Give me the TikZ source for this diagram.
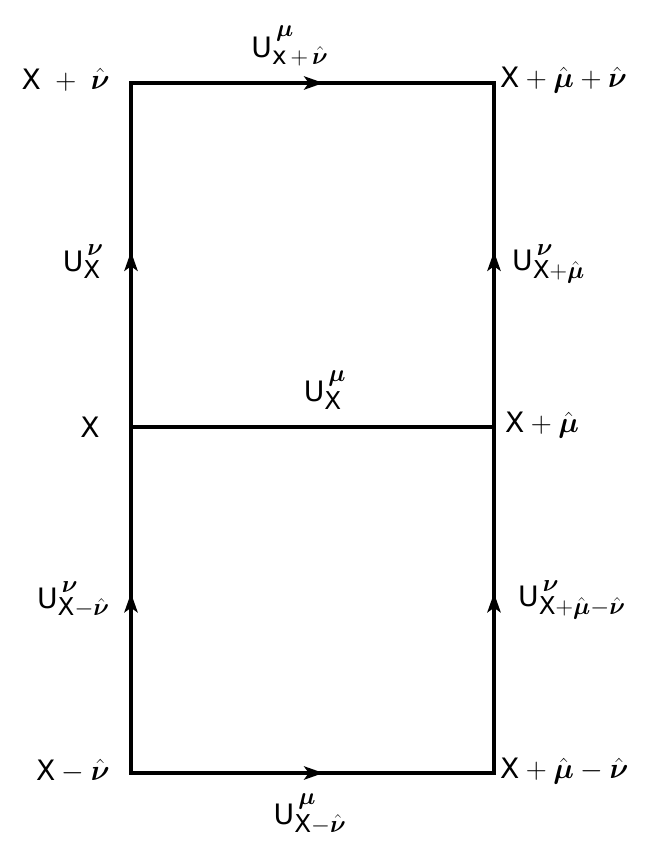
\documentclass[tikz,border=0pt]{standalone}
\usepackage{amsmath}
\usepackage{fontspec}
\setmainfont{DejaVu Sans}
\setmathsf{DejaVu Sans}
\usetikzlibrary{arrows.meta,decorations.markings}
\DeclareMathSizes{24}{24}{21}{16}
\newcommand{\gmu}{\boldsymbol{\mu}}
\newcommand{\gnu}{\boldsymbol{\nu}}
\newcommand{\hmu}{\hat{\gmu}}
\newcommand{\hnu}{\hat{\gnu}}
\newcommand{\sX}{\mathsf{X}}
\newcommand{\pl}{\mathbin{\mathsf{+}}}
\newcommand{\mn}{\mathbin{\mathsf{-}}}
\begin{document}
\begin{tikzpicture}[x=0.03cm,y=-0.03cm,
  link/.style={line width=2.8pt,line cap=rect},
  midarrow/.style={postaction={decorate},decoration={markings,
     mark=at position #1 with {\arrow{Stealth[length=0.58cm,width=0.4cm,inset=0.14cm]}}}},
  midarrow/.default=0.52,
  lbl/.style={font=\fontsize{24}{28}\selectfont,inner sep=0pt}]
\useasboundingbox (0,0) rectangle (668,849);
\coordinate (A) at (131,83);
\coordinate (B) at (494,83);
\coordinate (C) at (131,427);
\coordinate (D) at (494,427);
\coordinate (E) at (131,773);
\coordinate (F) at (494,773);
\draw[link,midarrow=0.53] (A) -- (B);
\draw[link] (C) -- (D);
\draw[link,midarrow=0.53] (E) -- (F);
\draw[link,midarrow=0.51] (C) -- (A);
\draw[link,midarrow=0.52] (E) -- (C);
\draw[link,midarrow=0.51] (D) -- (B);
\draw[link,midarrow=0.52] (F) -- (D);
% labels
\node[lbl] (lt) at (290,46) {$\mathsf{U}^{\,\gmu}_{\mathsf{x}\,\pl\,\hnu}$};
\node[lbl,anchor=east] (nA) at (110,80) {$\sX\;\pl\;\hnu$};
\node[lbl,anchor=west] (nB) at (500,80) {$\sX\pl\hmu\pl\hnu$};
\node[lbl,anchor=east] (ll1) at (104,262) {$\mathsf{U}^{\,\gnu}_{\sX}$};
\node[lbl,anchor=west] (lr1) at (512,264) {$\mathsf{U}^{\,\gnu}_{\sX\pl\hmu}$};
\node[lbl] (lm) at (325,390) {$\mathsf{U}^{\,\gmu}_{\sX}$};
\node[lbl] (nC) at (90,427) {$\sX$};
\node[lbl,anchor=west] (nD) at (505,425) {$\sX\pl\hmu$};
\node[lbl,anchor=east] (ll2) at (110,600) {$\mathsf{U}^{\,\gnu}_{\sX\mn\hnu}$};
\node[lbl,anchor=west] (lr2) at (518,600) {$\mathsf{U}^{\,\gnu}_{\sX\pl\hmu\mn\hnu}$};
\node[lbl,anchor=east] (nE) at (110,771) {$\sX\mn\hnu$};
\node[lbl,anchor=west] (nF) at (500,771) {$\sX\pl\hmu\mn\hnu$};
\node[lbl] (lb) at (310,814) {$\mathsf{U}^{\,\gmu}_{\sX\mn\hnu}$};
\end{tikzpicture}
\end{document}
